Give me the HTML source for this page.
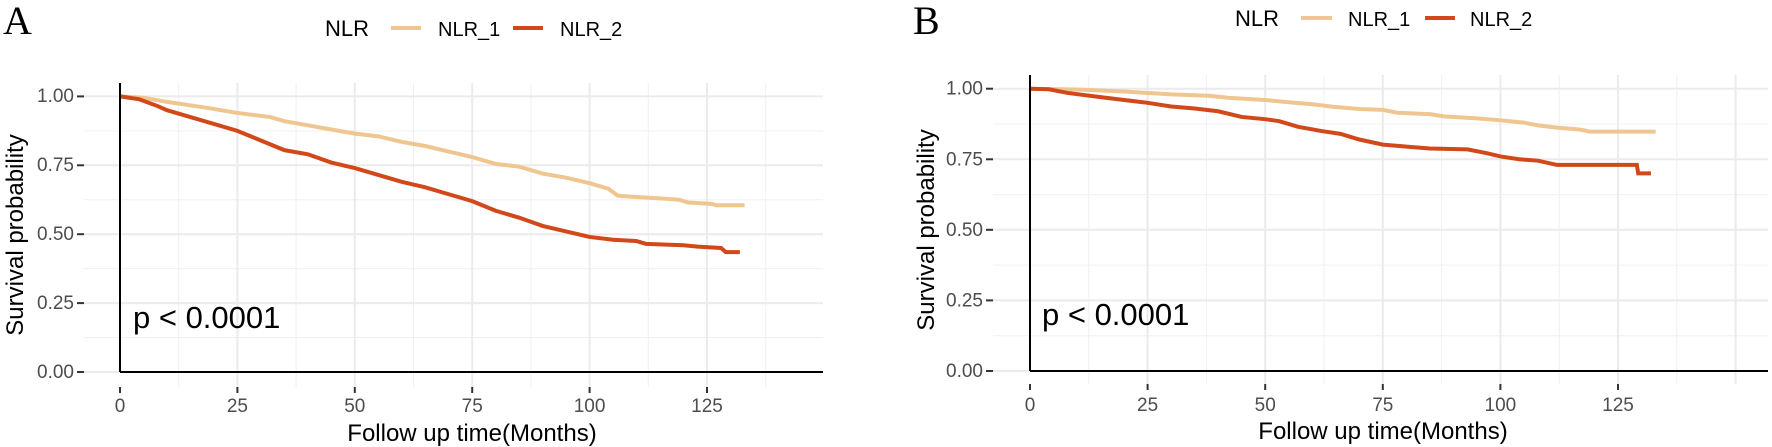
<!DOCTYPE html>
<html><head><meta charset="utf-8"><style>
html,body{margin:0;padding:0;background:#fff;}
svg{display:block;font-family:"Liberation Sans",Arial,sans-serif;}
</style></head><body>
<svg width="1772" height="447" viewBox="0 0 1772 447" xmlns="http://www.w3.org/2000/svg">
<!-- PANEL A -->
<g>
<text x="3" y="34" font-family="Liberation Serif,serif" font-size="40">A</text>
<text x="325" y="36" font-size="22">NLR</text>
<line x1="391" y1="28" x2="421" y2="28" stroke="#EFC690" stroke-width="4"/>
<text x="438" y="36" font-size="20">NLR_1</text>
<line x1="513" y1="28" x2="543" y2="28" stroke="#D1481A" stroke-width="4"/>
<text x="560" y="36" font-size="20">NLR_2</text>
<g stroke="#f0f0f0" stroke-width="1">
<line x1="84" x2="823" y1="337.5" y2="337.5"/><line x1="84" x2="823" y1="268.6" y2="268.6"/>
<line x1="84" x2="823" y1="199.7" y2="199.7"/><line x1="84" x2="823" y1="130.9" y2="130.9"/>
<line x1="178.7" x2="178.7" y1="83" y2="387"/><line x1="296.1" x2="296.1" y1="83" y2="387"/>
<line x1="413.5" x2="413.5" y1="83" y2="387"/><line x1="530.9" x2="530.9" y1="83" y2="387"/>
<line x1="648.3" x2="648.3" y1="83" y2="387"/><line x1="765.7" x2="765.7" y1="83" y2="387"/>
</g>
<g stroke="#ebebeb" stroke-width="2">
<line x1="84" x2="823" y1="372" y2="372"/><line x1="84" x2="823" y1="303.1" y2="303.1"/>
<line x1="84" x2="823" y1="234.2" y2="234.2"/><line x1="84" x2="823" y1="165.3" y2="165.3"/>
<line x1="84" x2="823" y1="96.4" y2="96.4"/>
<line x1="237.4" x2="237.4" y1="83" y2="387"/><line x1="354.8" x2="354.8" y1="83" y2="387"/>
<line x1="472.2" x2="472.2" y1="83" y2="387"/><line x1="589.6" x2="589.6" y1="83" y2="387"/>
<line x1="707" x2="707" y1="83" y2="387"/>
</g>
<g stroke="#333" stroke-width="2">
<line x1="77" x2="84" y1="372" y2="372"/><line x1="77" x2="84" y1="303.1" y2="303.1"/>
<line x1="77" x2="84" y1="234.2" y2="234.2"/><line x1="77" x2="84" y1="165.3" y2="165.3"/>
<line x1="77" x2="84" y1="96.4" y2="96.4"/>
<line x1="120" x2="120" y1="387" y2="393"/><line x1="237.4" x2="237.4" y1="387" y2="393"/>
<line x1="354.8" x2="354.8" y1="387" y2="393"/><line x1="472.2" x2="472.2" y1="387" y2="393"/>
<line x1="589.6" x2="589.6" y1="387" y2="393"/><line x1="707" x2="707" y1="387" y2="393"/>
</g>
<g font-size="19" fill="#4d4d4d" text-anchor="end">
<text x="74" y="378">0.00</text><text x="74" y="309">0.25</text><text x="74" y="240">0.50</text>
<text x="74" y="171">0.75</text><text x="74" y="102">1.00</text>
</g>
<g font-size="19" fill="#4d4d4d" text-anchor="middle">
<text x="120" y="412">0</text><text x="237.4" y="412">25</text><text x="354.8" y="412">50</text>
<text x="472.2" y="412">75</text><text x="589.6" y="412">100</text><text x="707" y="412">125</text>
</g>
<text x="472" y="441" font-size="24" text-anchor="middle">Follow up time(Months)</text>
<text transform="translate(23,235) rotate(-90)" font-size="24" text-anchor="middle">Survival probability</text>
<g transform="translate(120,372) scale(4.696,-275.6)" fill="none" stroke-width="4">
<polyline vector-effect="non-scaling-stroke" stroke="#EFC690" points="0,1 5,0.995 10,0.98 18,0.96 25,0.94 32,0.925 35,0.91 40,0.895 45,0.88 50,0.865 55,0.855 60,0.835 65,0.82 70,0.8 75,0.78 80,0.755 85,0.745 90,0.72 95,0.705 100,0.685 104,0.665 106,0.64 110,0.635 115,0.63 119,0.625 121,0.615 126,0.61 127,0.605 133,0.605"/>
<polyline vector-effect="non-scaling-stroke" stroke="#D1481A" points="0,1 4,0.99 8,0.965 10,0.95 15,0.925 20,0.9 25,0.875 30,0.84 35,0.805 40,0.79 45,0.76 50,0.74 55,0.715 60,0.69 65,0.67 70,0.645 75,0.62 80,0.585 85,0.56 90,0.53 95,0.51 100,0.49 105,0.48 110,0.475 112,0.465 120,0.46 123,0.455 128,0.45 129,0.435 132,0.435"/>
</g>
<line x1="120" y1="83" x2="120" y2="372" stroke="#000" stroke-width="2"/>
<line x1="120" y1="372" x2="823" y2="372" stroke="#000" stroke-width="2"/>
<text x="133" y="328" font-size="31">p &lt; 0.0001</text>
</g>

<!-- PANEL B -->
<g>
<text x="913" y="34" font-family="Liberation Serif,serif" font-size="40">B</text>
<text x="1235" y="26" font-size="22">NLR</text>
<line x1="1301" y1="18" x2="1332" y2="18" stroke="#EFC690" stroke-width="4"/>
<text x="1348" y="26" font-size="20">NLR_1</text>
<line x1="1425" y1="18" x2="1455" y2="18" stroke="#D1481A" stroke-width="4"/>
<text x="1470" y="26" font-size="20">NLR_2</text>
<g stroke="#f0f0f0" stroke-width="1">
<line x1="993" x2="1768" y1="335.7" y2="335.7"/><line x1="993" x2="1768" y1="265.1" y2="265.1"/>
<line x1="993" x2="1768" y1="194.6" y2="194.6"/><line x1="993" x2="1768" y1="124" y2="124"/>
<line x1="1088.8" x2="1088.8" y1="75" y2="384"/><line x1="1206.4" x2="1206.4" y1="75" y2="384"/>
<line x1="1324" x2="1324" y1="75" y2="384"/><line x1="1441.6" x2="1441.6" y1="75" y2="384"/>
<line x1="1559.2" x2="1559.2" y1="75" y2="384"/><line x1="1676.8" x2="1676.8" y1="75" y2="384"/>
</g>
<g stroke="#ebebeb" stroke-width="2">
<line x1="993" x2="1768" y1="371" y2="371"/><line x1="993" x2="1768" y1="300.4" y2="300.4"/>
<line x1="993" x2="1768" y1="229.8" y2="229.8"/><line x1="993" x2="1768" y1="159.3" y2="159.3"/>
<line x1="993" x2="1768" y1="88.7" y2="88.7"/>
<line x1="1147.6" x2="1147.6" y1="75" y2="384"/><line x1="1265.2" x2="1265.2" y1="75" y2="384"/>
<line x1="1382.8" x2="1382.8" y1="75" y2="384"/><line x1="1500.4" x2="1500.4" y1="75" y2="384"/>
<line x1="1618" x2="1618" y1="75" y2="384"/><line x1="1735.6" x2="1735.6" y1="75" y2="384"/>
</g>
<g stroke="#333" stroke-width="2">
<line x1="986" x2="993" y1="371" y2="371"/><line x1="986" x2="993" y1="300.4" y2="300.4"/>
<line x1="986" x2="993" y1="229.8" y2="229.8"/><line x1="986" x2="993" y1="159.3" y2="159.3"/>
<line x1="986" x2="993" y1="88.7" y2="88.7"/>
<line x1="1030" x2="1030" y1="384" y2="390"/><line x1="1147.6" x2="1147.6" y1="384" y2="390"/>
<line x1="1265.2" x2="1265.2" y1="384" y2="390"/><line x1="1382.8" x2="1382.8" y1="384" y2="390"/>
<line x1="1500.4" x2="1500.4" y1="384" y2="390"/><line x1="1618" x2="1618" y1="384" y2="390"/>
</g>
<g font-size="19" fill="#4d4d4d" text-anchor="end">
<text x="983" y="377">0.00</text><text x="983" y="306.4">0.25</text><text x="983" y="235.8">0.50</text>
<text x="983" y="165.3">0.75</text><text x="983" y="94.7">1.00</text>
</g>
<g font-size="19" fill="#4d4d4d" text-anchor="middle">
<text x="1030" y="411">0</text><text x="1147.6" y="411">25</text><text x="1265.2" y="411">50</text>
<text x="1382.8" y="411">75</text><text x="1500.4" y="411">100</text><text x="1618" y="411">125</text>
</g>
<text x="1383" y="439" font-size="24" text-anchor="middle">Follow up time(Months)</text>
<text transform="translate(934,230) rotate(-90)" font-size="24" text-anchor="middle">Survival probability</text>
<g transform="translate(1030,371) scale(4.704,-282.3)" fill="none" stroke-width="4">
<polyline vector-effect="non-scaling-stroke" stroke="#EFC690" points="0,1 10,0.997 20,0.99 30,0.98 38,0.975 42,0.968 50,0.96 55,0.952 60,0.945 65,0.935 70,0.928 75,0.925 78,0.915 85,0.91 88,0.902 95,0.895 100,0.888 105,0.88 108,0.87 112,0.862 117,0.855 119,0.848 133,0.848"/>
<polyline vector-effect="non-scaling-stroke" stroke="#D1481A" points="0,1 4,0.998 8,0.985 15,0.97 20,0.96 25,0.95 30,0.937 35,0.93 40,0.92 45,0.9 50,0.892 53,0.885 57,0.865 62,0.85 66,0.84 70,0.82 75,0.802 80,0.795 85,0.788 93,0.785 97,0.772 100,0.76 104,0.75 108,0.745 112,0.73 125,0.73 129,0.73 129.3,0.7 132,0.7"/>
</g>
<line x1="1030" y1="75" x2="1030" y2="371" stroke="#000" stroke-width="2"/>
<line x1="1030" y1="371" x2="1768" y2="371" stroke="#000" stroke-width="2"/>
<text x="1042" y="325" font-size="31">p &lt; 0.0001</text>
</g>
</svg>
</body></html>
